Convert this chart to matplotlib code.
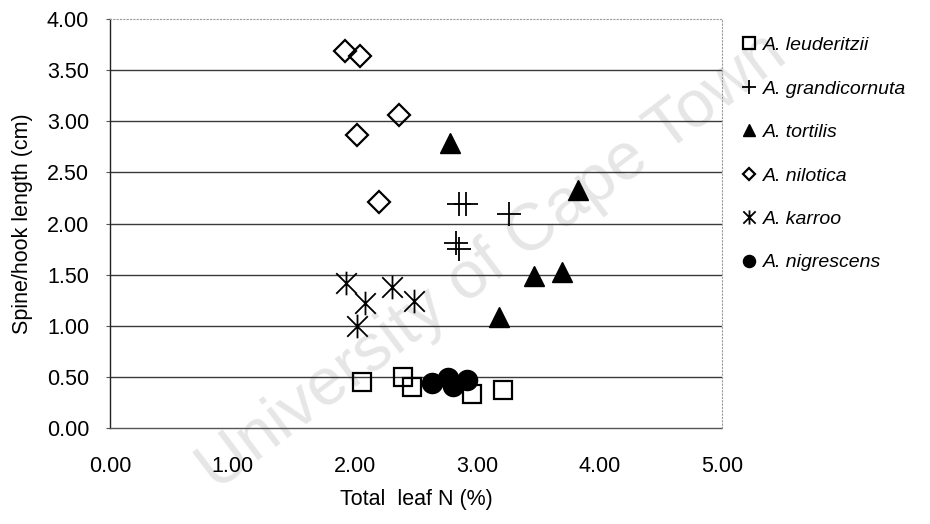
import matplotlib
matplotlib.use("Agg")
import matplotlib.pyplot as plt
from matplotlib.path import Path

plt.rcParams['font.family'] = ['Liberation Sans', 'DejaVu Sans']

# Total leaf N (%) and spine/hook length (cm) per species
leuderitzii_n = [2.06, 2.39, 2.47, 2.96, 3.21]
leuderitzii_len = [0.45, 0.50, 0.40, 0.33, 0.37]

grandicornuta_n = [2.85, 2.91, 3.26, 2.83, 2.85]
grandicornuta_len = [2.19, 2.19, 2.09, 1.81, 1.75]

tortilis_n = [2.78, 3.82, 3.46, 3.69, 3.18]
tortilis_len = [2.79, 2.33, 1.49, 1.53, 1.09]

nilotica_n = [1.92, 2.04, 2.36, 2.02, 2.20]
nilotica_len = [3.69, 3.64, 3.06, 2.87, 2.21]

karroo_n = [1.93, 2.08, 2.02, 2.30, 2.48]
karroo_len = [1.42, 1.22, 1.00, 1.38, 1.24]

nigrescens_n = [2.63, 2.76, 2.80, 2.92]
nigrescens_len = [0.44, 0.49, 0.41, 0.47]

species = ["A. leuderitzii", "A. grandicornuta", "A. tortilis",
           "A. nilotica", "A. karroo", "A. nigrescens"]

x_ticks = [0, 1, 2, 3, 4, 5]
y_ticks = [0, 0.5, 1.0, 1.5, 2.0, 2.5, 3.0, 3.5, 4.0]

# asterisk marker: an X crossed by a vertical stroke
asterisk = Path(
    [(-1, -1), (1, 1), (-1, 1), (1, -1), (0, -1.15), (0, 1.15)],
    [Path.MOVETO, Path.LINETO, Path.MOVETO, Path.LINETO, Path.MOVETO, Path.LINETO],
)

fig = plt.figure(figsize=(9.3, 5.24), dpi=100)
ax = fig.add_axes([110 / 930, 1 - 428 / 524, 612 / 930, 409 / 524])

ax.text(0.53, 0.5, "University of Cape Town", transform=fig.transFigure,
        rotation=37, ha="center", va="center", fontsize=48,
        color="#e6e6e6", zorder=0)

series = [
    (leuderitzii_n, leuderitzii_len, dict(marker="s", ms=13.5, mfc="none", mec="black", mew=1.6)),
    (grandicornuta_n, grandicornuta_len, dict(marker="+", ms=17, mec="black", mew=1.3)),
    (tortilis_n, tortilis_len, dict(marker="^", ms=14.5, mfc="black", mec="black")),
    (nilotica_n, nilotica_len, dict(marker="D", ms=11, mfc="none", mec="black", mew=1.6)),
    (karroo_n, karroo_len, dict(marker=asterisk, ms=17, mec="black", mew=1.3)),
    (nigrescens_n, nigrescens_len, dict(marker="o", ms=14.5, mfc="black", mec="black")),
]

handles = []
for (xs, ys, style), name in zip(series, species):
    h, = ax.plot(xs, ys, linestyle="none", label=name, zorder=3, **style)
    handles.append(h)

ax.set_xlim(0, 5)
ax.set_ylim(0, 4)
ax.set_xticks(x_ticks)
ax.set_xticklabels([f"{v:.2f}" for v in x_ticks])
ax.set_yticks(y_ticks)
ax.set_yticklabels([f"{v:.2f}" for v in y_ticks])
ax.tick_params(axis="x", length=0, pad=20, labelsize=15.5)
ax.tick_params(axis="y", length=3, width=0.8, pad=12, labelsize=15.5, color="#555555")

for y in y_ticks[1:-1]:
    ax.axhline(y, color="#3a3a3a", lw=1.0, zorder=1)

ax.spines["left"].set_color("#222222")
ax.spines["left"].set_linewidth(1.0)
ax.spines["bottom"].set_color("#555555")
ax.spines["bottom"].set_linestyle((0, (2, 1)))
ax.spines["bottom"].set_linewidth(1.0)
for side in ("top", "right"):
    ax.spines[side].set_color("#9a9a9a")
    ax.spines[side].set_linestyle((0, (1, 2)))
    ax.spines[side].set_linewidth(0.8)
ax.patch.set_alpha(0)

ax.set_xlabel("Total  leaf N (%)", fontsize=15.5, labelpad=9)
ax.set_ylabel("Spine/hook length (cm)", fontsize=15.5, labelpad=10)

fig.legend(handles=handles, loc="upper left", bbox_to_anchor=(724 / 930, 1 - 19 / 524),
           frameon=False, markerscale=0.6, handlelength=0.8, handletextpad=0.3,
           labelspacing=1.33, prop=dict(style="italic", size=14))

fig.savefig("out.png", dpi=100)
